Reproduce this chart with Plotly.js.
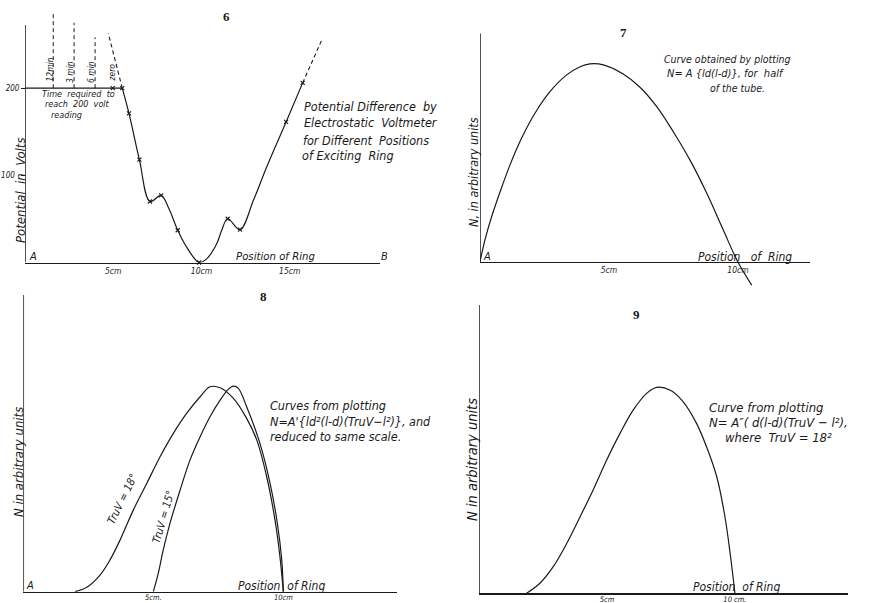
<!DOCTYPE html>
<html>
<head>
<meta charset="utf-8">
<script src="https://cdn.plot.ly/plotly-3.0.1.min.js"></script>
<style>html,body{margin:0;padding:0;background:#fff;}#chart{width:874px;height:603px;}</style>
</head>
<body>
<div id="chart"></div>
<script>
// ---------- DATA ----------
// Fig 6: potential difference (volts) vs ring position (cm)
const p6FlatX = [0, 5.51];
const p6FlatY = [200, 200];
const p6CurveX = [5.51, 5.89, 6.48, 7.08, 7.71, 8.15, 8.65, 9.16, 9.86, 10.29, 10.86, 11.14, 11.48, 12.18, 12.94, 13.69, 14.79, 15.73];
const p6CurveY = [200, 171, 118, 70, 77, 62, 37, 17.6, 0, 4.2, 21.5, 36.8, 50.2, 37.6, 71.3, 109.5, 161.3, 206.1];
const p6MarkX = [4.97, 5.51, 5.89, 6.48, 7.08, 7.71, 8.65, 9.86, 11.48, 12.18, 14.79, 15.73];
const p6MarkY = [200, 200, 171, 118, 70, 77, 37, 0, 50.2, 37.6, 161.3, 206.1];
const p6ExtLeftX = [5.51, 4.72];
const p6ExtLeftY = [200, 262.8];
const p6ExtRightX = [15.73, 16.81];
const p6ExtRightY = [206.1, 255.2];
const p6TimeX = [1.60, 2.78, 3.97];
const p6TimeTop = [285.9, 275.1, 258.3];
const p6TimeLabels = ["12min", "3 min", "6 min", "zero"];
const p6TickVals = [5, 10, 15];
const p6TickText = ["5cm", "10cm", "15cm"];
const p6YTickVals = [100, 200];
const p6YTickText = ["100\u00a0\u00a0", "200"];

// Fig 7: N = A{ld(l-d)}
const p7X = [0, 0.19, 0.45, 0.78, 1.16, 1.61, 2.13, 2.71, 3.36, 3.88, 4.26, 4.78, 5.55, 6.20, 6.85, 7.49, 8.14, 8.79, 9.43, 9.99, 10.53];
const p7Y = [0, 10.8, 22.5, 35, 48.3, 61.7, 74.2, 85, 93.4, 97.5, 98.9, 98.4, 93.8, 87.2, 77.5, 65, 50.8, 34.2, 15.8, 0, -11.7];
const p7TickVals = [5, 10];
const p7TickText = ["5cm", "10cm"];

// Fig 8: two curves, TruV = 18° and 15°
const p8X18 = [1.99, 2.44, 2.95, 3.33, 3.72, 4.23, 4.75, 5.26, 5.77, 6.28, 6.80, 7.18, 7.57, 8.08, 8.59, 8.98, 9.36, 9.68, 9.87, 10.0];
const p8Y18 = [0, 2.2, 8.3, 15.8, 25.8, 40.8, 54.2, 67.5, 79.2, 89.2, 97.5, 102.5, 102, 96.7, 86.7, 75.8, 57.5, 35.8, 17.5, 0];
const p8X15 = [5.0, 5.19, 5.38, 5.64, 6.03, 6.41, 6.80, 7.18, 7.57, 7.88, 8.08, 8.27, 8.59, 9.10, 9.49, 9.77, 9.94, 10.0];
const p8Y15 = [0, 9.2, 20.8, 34.2, 50.8, 65.8, 77.5, 87.5, 95.8, 101.2, 102.8, 101.7, 92.5, 74.2, 54.2, 34.2, 15.8, 0];
const p8TickVals = [5, 10];
const p8TickText = ["5cm.", "10cm"];

// Fig 9: N = A"(d(l-d)(TruV-l²)), TruV = 18²
const p9X = [1.86, 2.38, 2.90, 3.43, 3.95, 4.46, 4.99, 5.51, 6.03, 6.55, 6.94, 7.46, 7.98, 8.50, 8.89, 9.29, 9.61, 9.83, 10.0];
const p9Y = [0, 5, 13.3, 25, 38.3, 51.7, 66.7, 80, 91.7, 100, 103, 101.7, 95.8, 85, 73.3, 58.3, 38.3, 18.3, 0];
const p9TickVals = [5, 10];
const p9TickText = ["5cm", "10 cm."];

// ---------- STYLE / LAYOUT ----------
const W = 874, H = 603;
const INK = '#1a1a1a';
const HAND = 'Liberation Sans Narrow, DejaVu Sans Condensed, Liberation Sans, sans-serif';
const SERIF = 'Liberation Serif, DejaVu Serif, serif';
const px = v => v / W;
const py = v => 1 - v / H;

function line(x, y, xa, ya, extra) {
  return Object.assign({x: x, y: y, xaxis: xa, yaxis: ya, type: 'scatter', mode: 'lines',
    line: {color: INK, width: 1.2, shape: 'spline', smoothing: 1}, hoverinfo: 'skip', showlegend: false}, extra || {});
}

const traces = [];
traces.push(line(p6FlatX, p6FlatY, 'x', 'y', {line: {color: INK, width: 1.3}}));
traces.push(line(p6CurveX, p6CurveY, 'x', 'y'));
traces.push(line(p6ExtLeftX, p6ExtLeftY, 'x', 'y', {line: {color: INK, width: 1.1, dash: '4px,3px'}}));
traces.push(line(p6ExtRightX, p6ExtRightY, 'x', 'y', {line: {color: INK, width: 1.1, dash: '4px,3px'}}));
p6TimeX.forEach((v, i) => {
  traces.push(line([v, v], [200, p6TimeTop[i]], 'x', 'y', {line: {color: INK, width: 1, dash: '4px,3px'}}));
});
traces.push({x: p6MarkX, y: p6MarkY, xaxis: 'x', yaxis: 'y', type: 'scatter', mode: 'markers',
  marker: {symbol: 'x-thin', size: 4, line: {color: INK, width: 1.1}}, hoverinfo: 'skip', showlegend: false, cliponaxis: false});
traces.push(line(p7X, p7Y, 'x2', 'y2'));
traces.push(line(p8X18, p8Y18, 'x3', 'y3'));
traces.push(line(p8X15, p8Y15, 'x3', 'y3'));
traces.push(line(p9X, p9Y, 'x4', 'y4'));

function xax(d0, d1, r1, pos, tv, tt, fs, so) {
  return {domain: [px(d0), px(d1)], range: [0, r1], anchor: 'free', position: py(pos),
    showline: true, linecolor: INK, linewidth: 1.5, showgrid: false, zeroline: false,
    ticks: '', tickvals: tv, ticktext: tt, ticklabelstandoff: so,
    tickfont: {family: HAND, size: fs, color: INK, style: 'italic'}, fixedrange: true};
}
function yax(bot, top, r0, r1, pos, extra) {
  return Object.assign({domain: [py(bot), py(top)], range: [r0, r1], anchor: 'free', position: px(pos),
    showline: false, showgrid: false, zeroline: false, showticklabels: false, ticks: '', fixedrange: true}, extra || {});
}

const P6_YTOP = 272.4, P7_YTOP = 114.2, P8_YTOP = 148.4, P9_YTOP = 144.2;
const P6_XEND = 20.11, P7_XEND = 12.79, P8_XEND = 14.36, P9_XEND = 14.43;

function yline(xr, yr, top) {
  return {type: 'line', xref: xr, yref: yr, x0: 0, x1: 0, y0: 0, y1: top, line: {color: INK, width: 1.5}};
}

const annotations = [];
function ann(text, x, y, o) {
  o = o || {};
  annotations.push({text: text, x: px(x), y: py(y), xref: 'paper', yref: 'paper', showarrow: false,
    xanchor: o.xa || 'center', yanchor: 'middle', textangle: o.angle || 0,
    font: {family: o.family || HAND, size: o.size || 10, color: INK, style: o.style || 'italic', weight: o.weight || 'normal'}});
}
// Panel numbers
ann('6', 226, 17, {family: SERIF, size: 13, style: 'normal', weight: 'bold'});
ann('7', 623, 33, {family: SERIF, size: 13, style: 'normal', weight: 'bold'});
ann('8', 263, 296, {family: SERIF, size: 13, style: 'normal', weight: 'bold'});
ann('9', 636, 314, {family: SERIF, size: 13, style: 'normal', weight: 'bold'});
// Panel 6 texts
ann('Potential  in  Volts', 20, 190, {angle: -90, size: 13});
ann('A', 33, 257, {size: 11});
ann('B', 384, 257, {size: 11});
ann('Position of Ring', 276, 257, {size: 11.3});
ann('Potential Difference  by', 302, 107, {xa: 'left', size: 12.5});
ann('Electrostatic  Voltmeter', 302, 123, {xa: 'left', size: 12.5});
ann('for Different  Positions', 301, 140, {xa: 'left', size: 12.5});
ann('of Exciting  Ring', 300, 156, {xa: 'left', size: 12.5});
ann('Time  required  to', 78, 94, {size: 9});
ann('reach  200  volt', 77, 104, {size: 9});
ann('reading', 66, 115, {size: 9});
const timeLabelPos = [[49.5, 70], [70, 72], [91.5, 72.5], [111.5, 73]];
p6TimeLabels.forEach((t, i) => ann(t, timeLabelPos[i][0], timeLabelPos[i][1], {angle: -90, size: 8.5}));
// Panel 7 texts
ann('N, in arbitrary units', 473, 172, {angle: -90, size: 12.5});
ann('A', 487, 257, {size: 11});
ann('Position   of  Ring', 745, 257, {size: 12});
ann('Curve obtained by plotting', 662, 59, {xa: 'left', size: 10.5});
ann('N= A {ld(l-d)}, for  half', 665, 73, {xa: 'left', size: 11});
ann('of the tube.', 708, 88, {xa: 'left', size: 10.5});
// Panel 8 texts
ann('N in arbitrary units', 18, 462, {angle: -90, size: 13});
ann('A', 30, 585, {size: 11});
ann('Position  of Ring', 281, 586, {size: 12});
ann('Curves from plotting', 268, 405, {xa: 'left', size: 12.5});
ann("N=A'{ld²(l-d)(TruV−l²)}, and", 268, 421, {xa: 'left', size: 12.5});
ann('reduced to same scale.', 268, 436, {xa: 'left', size: 12.5});
ann('TruV = 18°', 122, 499, {angle: -64, size: 11});
ann('TruV = 15°', 163, 517, {angle: -74, size: 11});
// Panel 9 texts
ann('N in arbitrary units', 472, 460, {angle: -90, size: 14.5});
ann('Position  of Ring', 736, 587, {size: 12});
ann('Curve from plotting', 707, 407, {xa: 'left', size: 13});
ann('N= A″( d(l-d)(TruV − l²),', 707, 422, {xa: 'left', size: 13});
ann('where  TruV = 18²', 723, 437, {xa: 'left', size: 13});

const layout = {
  width: W, height: H, margin: {l: 0, r: 0, t: 0, b: 0},
  paper_bgcolor: '#ffffff', plot_bgcolor: 'rgba(0,0,0,0)', showlegend: false,
  xaxis: xax(25, 380, P6_XEND, 262.5, p6TickVals, p6TickText, 8.5, 0),
  yaxis: yax(262.5, 10, 0, 289.7, 25, {showticklabels: true, ticks: 'outside', ticklen: 4, tickcolor: INK, tickwidth: 1,
    tickvals: p6YTickVals, ticktext: p6YTickText, ticklabelstandoff: 0,
    tickfont: {family: HAND, size: 8, color: INK, style: 'italic'}}),
  xaxis2: xax(480, 810, P7_XEND, 261.7, p7TickVals, p7TickText, 8.5, 0),
  yaxis2: yax(290, 33.3, -14.15, P7_YTOP, 480),
  xaxis3: xax(23.3, 396.7, P8_XEND, 591.7, p8TickVals, p8TickText, 7.5, -2),
  yaxis3: yax(591.7, 295, 0, P8_YTOP, 23.3),
  xaxis4: xax(479, 848.3, P9_XEND, 593.3, p9TickVals, p9TickText, 7.5, -2),
  yaxis4: yax(593.3, 305, 0, P9_YTOP, 479),
  shapes: [yline('x', 'y', P6_YTOP), yline('x2', 'y2', P7_YTOP), yline('x3', 'y3', P8_YTOP), yline('x4', 'y4', P9_YTOP)],
  annotations: annotations
};

Plotly.newPlot('chart', traces, layout, {staticPlot: true, displayModeBar: false});
</script>
</body>
</html>
